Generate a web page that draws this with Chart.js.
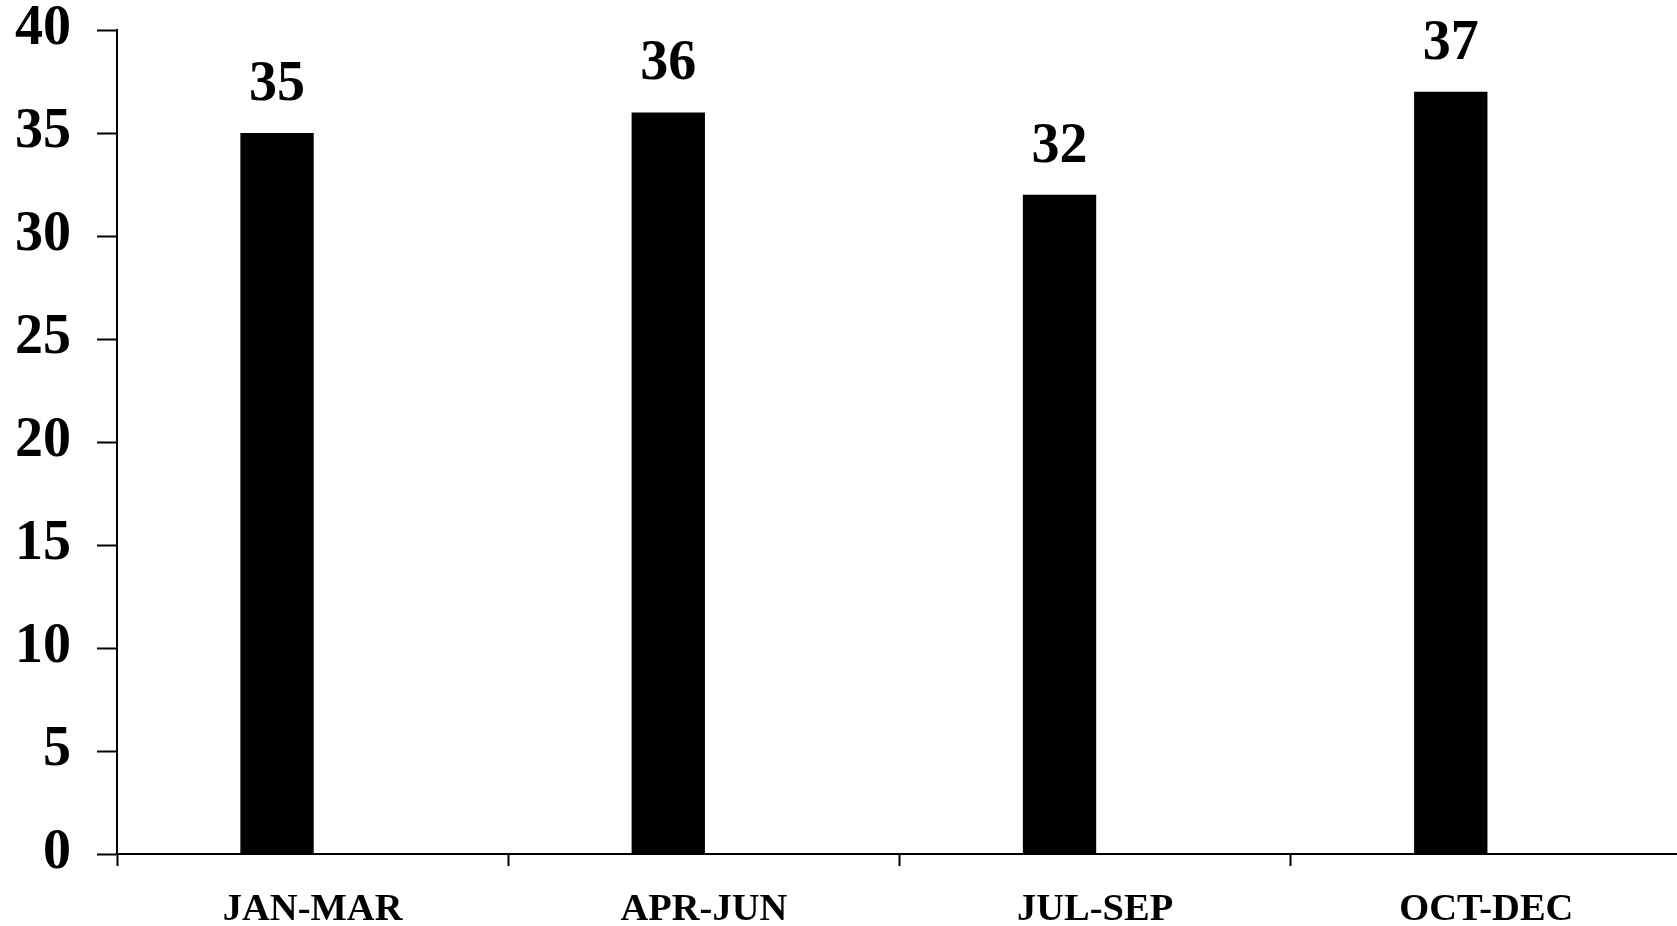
<!DOCTYPE html>
<html>
<head>
<meta charset="utf-8">
<script src="https://cdn.jsdelivr.net/npm/chart.js@4/dist/chart.umd.min.js"></script>
<style>
  html, body { margin: 0; padding: 0; background: #fff; overflow: hidden; }
  #wrap { width: 1677px; height: 926px; overflow: hidden; }
  canvas { display: block; }
</style>
</head>
<body>
<div id="wrap"><canvas id="chart" width="1682" height="926"></canvas></div>
<script>
// Quarterly counts
const categories = ['JAN-MAR', 'APR-JUN', 'JUL-SEP', 'OCT-DEC'];
const values = [35, 36, 32, 37];
// second (empty) series keeps the bars in the left half of each group
const emptySeries = [null, null, null, null];
const yMin = 0;
const yMax = 40;
const yStep = 5;

const FONT = "'Liberation Serif', 'Times New Roman', serif";

// Writes each bar's value above it
const valueLabels = {
  id: 'valueLabels',
  afterDatasetsDraw(chart) {
    const ctx = chart.ctx;
    const meta = chart.getDatasetMeta(0);
    ctx.save();
    ctx.font = 'bold 56px ' + FONT;
    ctx.fillStyle = '#000';
    ctx.textAlign = 'center';
    ctx.textBaseline = 'alphabetic';
    meta.data.forEach((bar, i) => {
      ctx.fillText(String(values[i]), bar.x, bar.y - 33);
    });
    ctx.restore();
  }
};

new Chart(document.getElementById('chart'), {
  type: 'bar',
  data: {
    labels: categories,
    datasets: [
      {
        label: 'Count',
        data: values,
        backgroundColor: '#000',
        borderWidth: 0,
        categoryPercentage: 0.364,
        barPercentage: 1.03
      },
      {
        label: '',
        data: emptySeries,
        backgroundColor: '#000',
        categoryPercentage: 0.364,
        barPercentage: 1.03
      }
    ]
  },
  options: {
    responsive: false,
    animation: false,
    devicePixelRatio: 1,
    layout: { padding: { top: 30, right: 0, bottom: 0, left: 0 } },
    plugins: {
      legend: { display: false },
      tooltip: { enabled: false },
      title: { display: false }
    },
    scales: {
      x: {
        offset: true,
        grid: {
          offset: true,
          drawOnChartArea: false,
          drawTicks: true,
          tickLength: 12,
          tickWidth: 2,
          tickColor: '#000'
        },
        border: { display: true, color: '#000', width: 2 },
        ticks: {
          color: '#000',
          padding: 21,
          maxRotation: 0,
          autoSkip: false,
          font: { family: FONT, size: 38.5, weight: 'bold', lineHeight: 1.2 }
        },
        afterFit(scale) {
          scale.height = 72;
          scale.paddingLeft = 0;
          scale.paddingRight = 0;
        }
      },
      y: {
        min: yMin,
        max: yMax,
        grid: {
          drawOnChartArea: false,
          drawTicks: true,
          tickLength: 20,
          tickWidth: 2,
          tickColor: '#000'
        },
        border: { display: true, color: '#000', width: 2 },
        ticks: {
          stepSize: yStep,
          color: '#000',
          padding: 26,
          font: { family: FONT, size: 56, weight: 'bold', lineHeight: 1 }
        },
        afterFit(scale) {
          scale.width = 117;
          scale.paddingTop = 0;
          scale.paddingBottom = 0;
        }
      }
    }
  },
  plugins: [valueLabels]
});
</script>
</body>
</html>
